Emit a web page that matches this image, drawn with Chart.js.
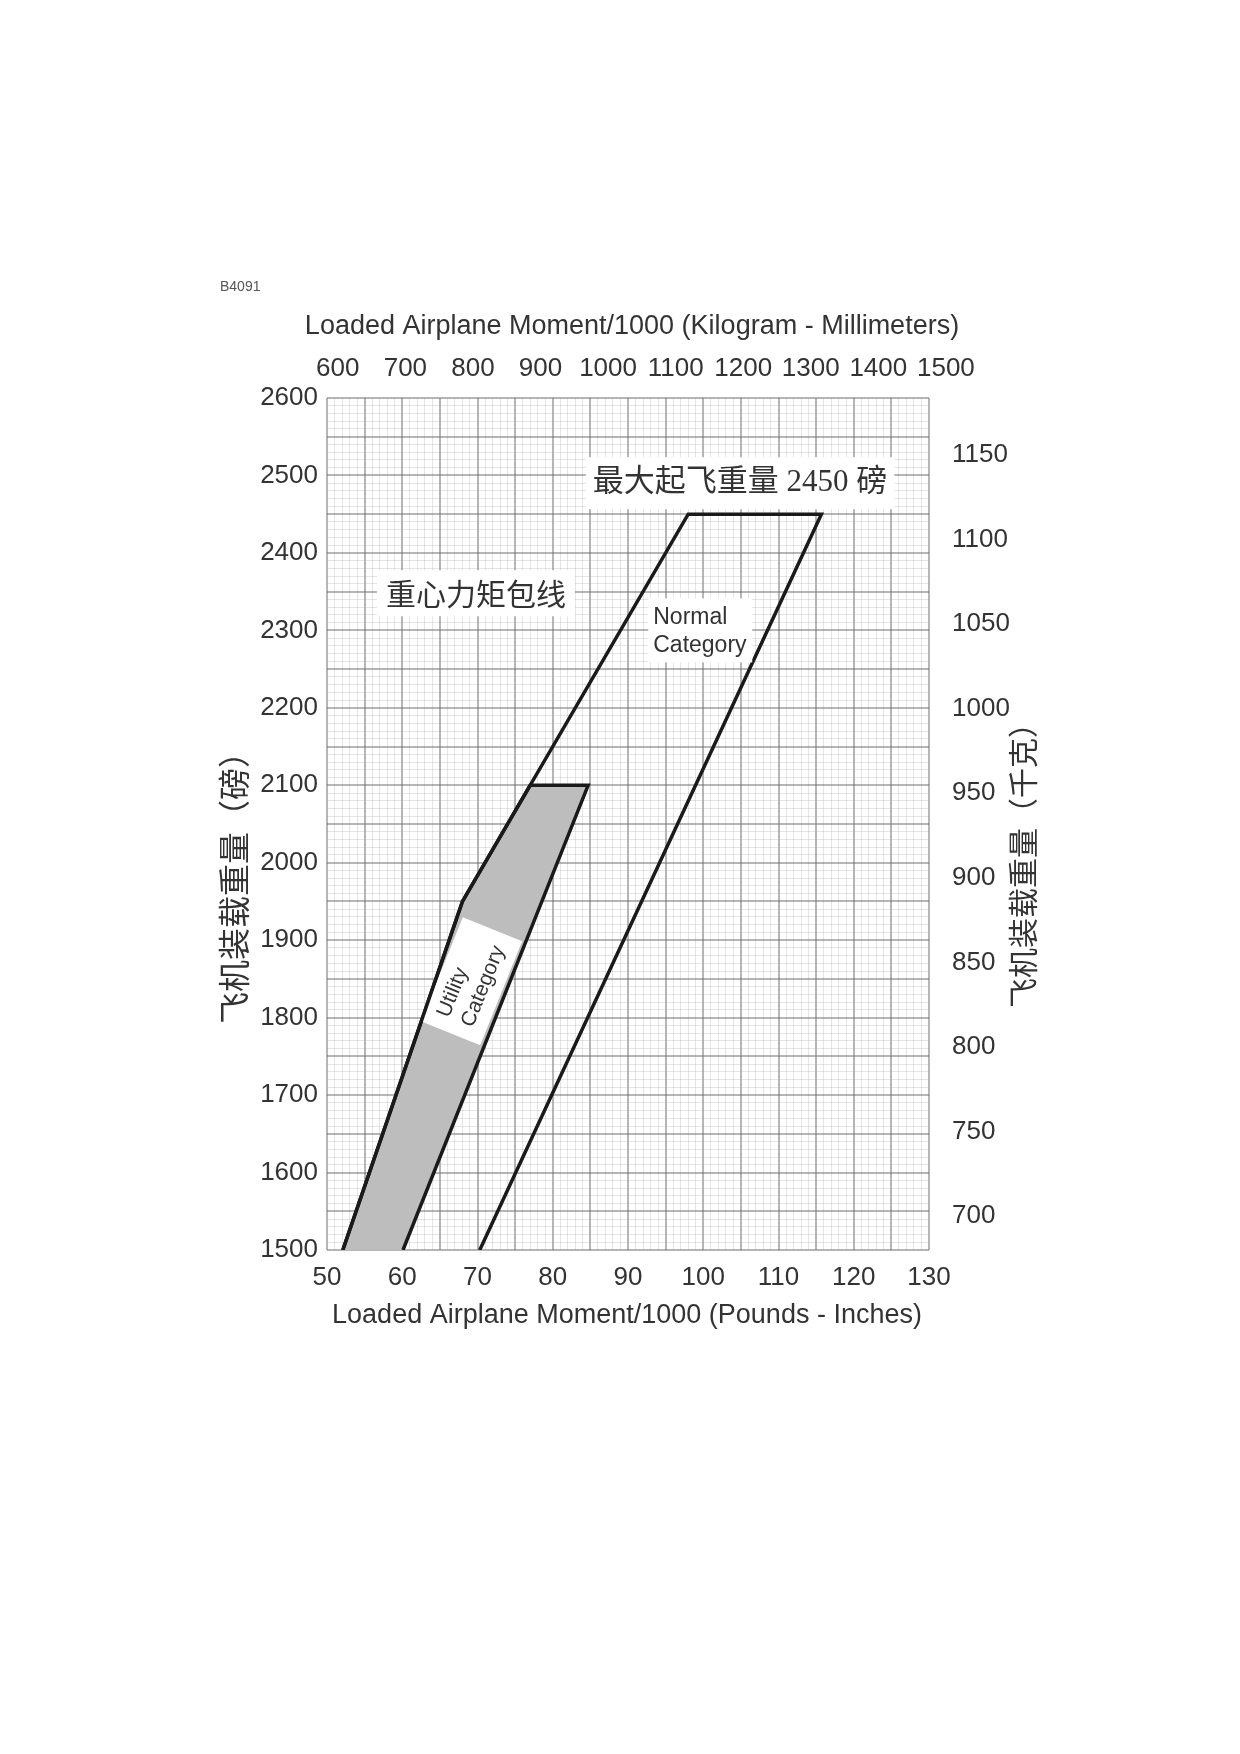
<!DOCTYPE html>
<html>
<head>
<meta charset="utf-8">
<script src="https://cdn.jsdelivr.net/npm/chart.js@4.4.1/dist/chart.umd.min.js"></script>
<style>
  html, body { margin: 0; padding: 0; background: #fff; }
  canvas { display: block; }
</style>
</head>
<body>
<canvas id="cgChart" width="1240" height="1754"></canvas>
<script>
// envelope corners: moment/1000 (lb-in) and loaded weight (lb)
const normalMoment = [52.1, 68, 98, 115.7, 70.3];
const normalWeight = [1500, 1950, 2450, 2450, 1500];
const utilityMoment = [52.1, 68, 77, 84.7, 60.1];
const utilityWeight = [1500, 1950, 2100, 2100, 1500];

// secondary axis tick labels
const kgmmTicks = [600, 700, 800, 900, 1000, 1100, 1200, 1300, 1400, 1500];
const kgTicks = [700, 750, 800, 850, 900, 950, 1000, 1050, 1100, 1150];

const ink = '#333';
const sans = "'Liberation Sans', Arial, sans-serif";
const cjk = "'Noto Sans CJK SC', sans-serif";

const toPoints = (xs, ys) => xs.map((v, i) => ({ x: v, y: ys[i] }));

const majorGrid = 'rgba(110,110,110,0.5)';
const minorGrid = 'rgba(160,160,160,0.28)';

function isMajor(c, every) {
    return c.tick && Math.round(c.tick.value) % every === 0;
}

function box(ctx, cx, cy, w, h) {
    ctx.fillStyle = '#fff';
    ctx.fillRect(cx - w / 2, cy - h / 2, w, h);
}

const labels = {
    id: 'labels',
    afterDatasetDraw(chart, args) {
        // white label box sits on the shaded band, under the outline
        if (args.index !== 0) return;
        const { ctx, scales: { x, y } } = chart;
        const cx = x.getPixelForValue(69.2);
        const cy = y.getPixelForValue(1847);
        ctx.save();
        ctx.translate(cx, cy);
        ctx.rotate(-68 * Math.PI / 180);
        box(ctx, 0, 0, 112, 64);
        ctx.fillStyle = ink;
        ctx.font = '21px ' + sans;
        ctx.textAlign = 'left';
        ctx.textBaseline = 'middle';
        ctx.fillText('Utility', -43, -13);
        ctx.fillText('Category', -43, 13);
        ctx.restore();
    },
    afterDatasetsDraw(chart) {
        const { ctx, scales: { x, y } } = chart;
        ctx.save();
        ctx.textAlign = 'center';
        ctx.textBaseline = 'middle';

        // max takeoff weight
        let cx = x.getPixelForValue(104.9), cy = y.getPixelForValue(2490);
        ctx.font = "31px 'Liberation Serif', " + cjk;
        let w = ctx.measureText('最大起飞重量 2450 磅').width;
        box(ctx, cx, cy, w + 14, 52);
        ctx.fillStyle = ink;
        ctx.fillText('最大起飞重量 2450 磅', cx, cy);

        // envelope caption
        cx = x.getPixelForValue(69.8); cy = y.getPixelForValue(2348);
        ctx.font = '30px ' + cjk;
        w = ctx.measureText('重心力矩包线').width;
        box(ctx, cx, cy, w + 18, 46);
        ctx.fillStyle = ink;
        ctx.fillText('重心力矩包线', cx, cy);

        // normal category
        cx = x.getPixelForValue(99.6); cy = y.getPixelForValue(2300);
        box(ctx, cx, cy, 104, 64);
        ctx.fillStyle = ink;
        ctx.font = '23px ' + sans;
        ctx.textAlign = 'left';
        ctx.fillText('Normal', cx - 47, cy - 13);
        ctx.fillText('Category', cx - 47, cy + 15);
        ctx.restore();
    },
    afterDraw(chart) {
        const ctx = chart.ctx;
        ctx.save();
        ctx.textBaseline = 'middle';

        ctx.font = '14px ' + sans;
        ctx.textAlign = 'left';
        ctx.fillStyle = '#555';
        ctx.fillText('B4091', 220, 287);

        ctx.fillStyle = ink;
        ctx.textAlign = 'center';
        ctx.font = '27px ' + sans;
        ctx.fillText('Loaded Airplane Moment/1000 (Kilogram - Millimeters)', 632, 327);
        ctx.fillText('Loaded Airplane Moment/1000 (Pounds - Inches)', 627, 1316);

        ctx.save();
        ctx.font = '32px ' + cjk;
        ctx.translate(234, 880);
        ctx.rotate(-Math.PI / 2);
        ctx.fillText('飞机装载重量（磅）', 0, 0);
        ctx.restore();
        ctx.save();
        ctx.font = '30px ' + cjk;
        ctx.translate(1023, 858);
        ctx.rotate(-Math.PI / 2);
        ctx.fillText('飞机装载重量（千克）', 0, 0);
        ctx.restore();
        ctx.restore();
    }
};

const tickFont = { family: sans, size: 26 };

const ctx = document.getElementById('cgChart').getContext('2d');
const cgChart = new Chart(ctx, {
    type: 'scatter',
    data: {
        datasets: [{
            label: 'Utility Category',
            data: toPoints(utilityMoment, utilityWeight),
            showLine: true,
            fill: 'shape',
            backgroundColor: '#bdbdbd',
            borderColor: '#1a1a1a',
            borderWidth: 3.5,
            pointRadius: 0,
            order: 2
        }, {
            label: 'Normal Category',
            data: toPoints(normalMoment, normalWeight),
            showLine: true,
            fill: false,
            borderColor: '#1a1a1a',
            borderWidth: 3.5,
            pointRadius: 0,
            order: 1
        }]
    },
    options: {
        responsive: false,
        animation: false,
        devicePixelRatio: 1,
        layout: { padding: 0 },
        plugins: {
            legend: { display: false },
            tooltip: { enabled: false }
        },
        scales: {
            x: {
                type: 'linear',
                position: 'bottom',
                min: 50,
                max: 130,
                afterFit: s => { s.height = 504; },
                ticks: {
                    stepSize: 1,
                    autoSkip: false,
                    maxRotation: 0,
                    padding: 12,
                    color: ink,
                    font: tickFont,
                    callback: v => (Math.round(v) % 10 === 0 ? String(v) : '')
                },
                grid: {
                    color: c => (isMajor(c, 5) ? majorGrid : minorGrid),
                    lineWidth: c => (isMajor(c, 5) ? 2 : 1),
                    drawTicks: false
                },
                border: { display: false }
            },
            x2: {
                type: 'linear',
                position: 'top',
                min: 584,
                max: 1475,
                afterFit: s => { s.height = 398; },
                afterBuildTicks: s => { s.ticks = kgmmTicks.map(v => ({ value: v })); },
                ticks: {
                    autoSkip: false,
                    maxRotation: 0,
                    padding: 14,
                    color: ink,
                    font: tickFont,
                    callback: v => String(v)
                },
                grid: { display: false, drawTicks: false },
                border: { display: false }
            },
            y: {
                type: 'linear',
                position: 'left',
                min: 1500,
                max: 2600,
                afterFit: s => { s.width = 327; },
                ticks: {
                    stepSize: 10,
                    autoSkip: false,
                    padding: 9,
                    color: ink,
                    font: tickFont,
                    callback: v => (Math.round(v) % 100 === 0 ? String(v) : '')
                },
                grid: {
                    color: c => (isMajor(c, 50) ? majorGrid : minorGrid),
                    lineWidth: c => (isMajor(c, 50) ? 2 : 1),
                    drawTicks: false
                },
                border: { display: false }
            },
            y2: {
                type: 'linear',
                position: 'right',
                min: 679.9,
                max: 1183.7,
                afterFit: s => { s.width = 311; },
                afterBuildTicks: s => { s.ticks = kgTicks.map(v => ({ value: v })); },
                ticks: {
                    autoSkip: false,
                    padding: 23,
                    color: ink,
                    font: tickFont,
                    callback: v => String(v)
                },
                grid: { display: false, drawTicks: false },
                border: { display: false }
            }
        }
    },
    plugins: [labels]
});
</script>
</body>
</html>
